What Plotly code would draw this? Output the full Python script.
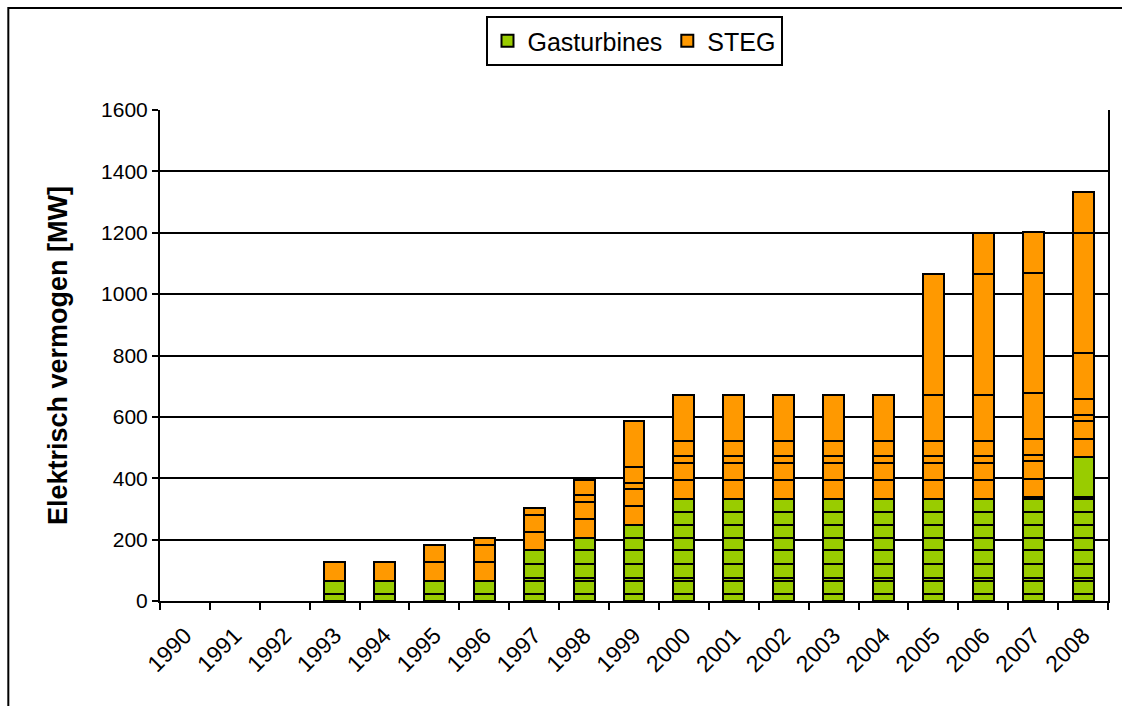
import plotly.graph_objects as go

years = [str(y) for y in range(1990, 2009)]

# Gas turbine units (MW), stacked bottom -> top; None = not present
gt1 = [None, None, None, 24, 24, 24, 24, 24, 24, 24, 24, 24, 24, 24, 24, 24, 24, 24, 24]
gt2 = [None, None, None, 42, 42, 42, 42, 42, 42, 42, 42, 42, 42, 42, 42, 42, 42, 42, 42]
gt3 = [None, None, None, None, None, None, None, 9, 9, 9, 9, 9, 9, 9, 9, 9, 9, 9, 9]
gt4 = [None, None, None, None, None, None, None, 47, 47, 47, 47, 47, 47, 47, 47, 47, 47, 47, 47]
gt5 = [None, None, None, None, None, None, None, 43, 43, 43, 43, 43, 43, 43, 43, 43, 43, 43, 43]
gt6 = [None, None, None, None, None, None, None, None, 41, 41, 41, 41, 41, 41, 41, 41, 41, 41, 41]
gt7 = [None, None, None, None, None, None, None, None, None, 42, 42, 42, 42, 42, 42, 42, 42, 42, 42]
gt8 = [None, None, None, None, None, None, None, None, None, None, 43, 43, 43, 43, 43, 43, 43, 43, 43]
gt9 = [None, None, None, None, None, None, None, None, None, None, 43, 43, 43, 43, 43, 43, 43, 43, 43]
gt10 = [None] * 17 + [5, 5]
gt11 = [None] * 18 + [130]

# STEG units (MW)
st1 = [None, None, None, 60, 60, 60, 60, 60, 60, 60, 60, 60, 60, 60, 60, 60, 60, 60, 60]
st2 = [None, None, None, None, None, 56, 56, 56, 56, 56, 56, 56, 56, 56, 56, 56, 56, 56, 56]
st3 = [None, None, None, None, None, None, 22, 22, 22, 22, 22, 22, 22, 22, 22, 22, 22, 22, 22]
st4 = [None, None, None, None, None, None, None, None, 51, 51, 51, 51, 51, 51, 51, 51, 51, 51, 51]
st5 = [None, None, None, None, None, None, None, None, None, 149, 149, 149, 149, 149, 149, 149, 149, 149, 149]
st6 = [None] * 15 + [393, 393, 393, 393]
st7 = [None] * 16 + [133, 133, 133]

gas_units = [gt1, gt2, gt3, gt4, gt5, gt6, gt7, gt8, gt9, gt10, gt11]
steg_units = [st1, st2, st3, st4, st5, st6, st7]

GREEN = "#99CC00"
ORANGE = "#FF9900"
FONT = "Liberation Sans, Arial, sans-serif"

fig = go.Figure()
for i, vals in enumerate(gas_units):
    fig.add_trace(go.Bar(
        x=years, y=vals, name="Gasturbines", legendgroup="gt",
        showlegend=(i == 0), marker=dict(color=GREEN, line=dict(color="black", width=2)),
        width=0.42,
    ))
for i, vals in enumerate(steg_units):
    fig.add_trace(go.Bar(
        x=years, y=vals, name="STEG", legendgroup="steg",
        showlegend=(i == 0), marker=dict(color=ORANGE, line=dict(color="black", width=2)),
        width=0.42,
    ))

L, R, T, B = 160, 12, 110, 105
W, H = 1122, 706
pw, ph = W - L - R, H - T - B

def px(x):
    return (x - L) / pw

def py(y):
    return (H - B - y) / ph

fig.update_layout(
    width=W, height=H,
    barmode="stack",
    margin=dict(l=L, r=R, t=T, b=B),
    paper_bgcolor="white", plot_bgcolor="white",
    font=dict(family=FONT, size=21, color="black"),
    legend=dict(
        orientation="h", x=0.5, xanchor="center", y=py(16), yanchor="top",
        bordercolor="black", borderwidth=2, font=dict(size=25, family=FONT),
        traceorder="normal", itemwidth=30, tracegroupgap=0,
    ),
    xaxis=dict(
        type="category", tickangle=-45, tickson="boundaries",
        ticks="outside", ticklen=7, tickwidth=2, tickcolor="black",
        showline=True, linecolor="black", linewidth=2,
        showgrid=False, tickfont=dict(size=23, family=FONT),
        ticklabelstandoff=10,
    ),
    yaxis=dict(
        range=[0, 1600], dtick=200, ticks="outside", ticklen=6, tickwidth=2,
        tickcolor="black", showline=True, linecolor="black", linewidth=2,
        mirror=True, showgrid=True, gridcolor="black", gridwidth=2,
        tickfont=dict(size=21, family=FONT),
        title=dict(text="<b>Elektrisch vermogen [MW]</b>", font=dict(size=27, family=FONT), standoff=26),
        zeroline=False,
    ),
    shapes=[dict(
        type="rect", xref="paper", yref="paper",
        x0=px(8), x1=px(1130), y0=py(720), y1=py(8),
        line=dict(color="black", width=2), fillcolor="rgba(0,0,0,0)", layer="below",
    )],
)

fig.write_html("out.html", post_script="document.body.style.margin='0px';",
               config={"displayModeBar": False})
